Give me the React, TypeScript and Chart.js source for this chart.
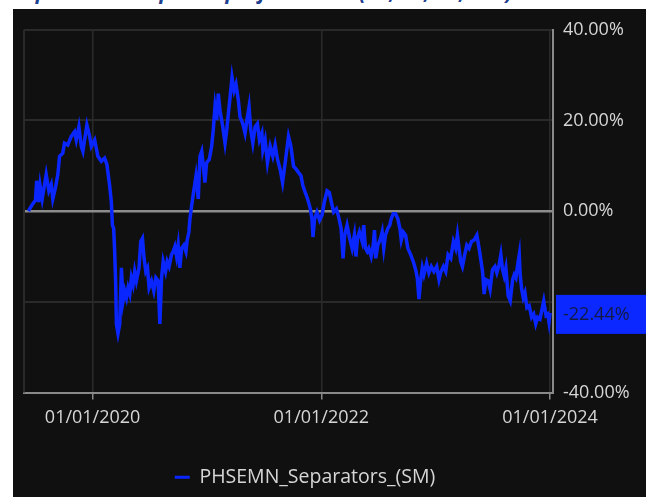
import React, { useEffect, useRef } from "react";
import { Chart, registerables } from "chart.js";

Chart.register(...registerables);

const SERIES_NAME = "PHSEMN_Separators_(SM)";
const TITLE_TEXT = "Separators vs. peers: performance (1Y, 3Y, 5Y, 10Y)";

// x positions as decimal years
const dateYears: number[] = [
  2019.439, 2019.447, 2019.476, 2019.5, 2019.511, 2019.529, 2019.541, 2019.559, 2019.594, 2019.617,
  2019.638, 2019.652, 2019.675, 2019.696, 2019.711, 2019.739, 2019.754, 2019.783, 2019.813, 2019.842,
  2019.857, 2019.88, 2019.901, 2019.915, 2019.93, 2019.95, 2019.974, 2019.989, 2020.018, 2020.046,
  2020.076, 2020.105, 2020.125, 2020.149, 2020.164, 2020.173, 2020.184, 2020.193, 2020.202, 2020.208,
  2020.222, 2020.237, 2020.252, 2020.266, 2020.281, 2020.296, 2020.31, 2020.325, 2020.339, 2020.354,
  2020.368, 2020.383, 2020.406, 2020.421, 2020.436, 2020.45, 2020.465, 2020.48, 2020.494, 2020.515,
  2020.535, 2020.553, 2020.573, 2020.588, 2020.603, 2020.617, 2020.638, 2020.652, 2020.669, 2020.69,
  2020.704, 2020.719, 2020.734, 2020.748, 2020.763, 2020.778, 2020.798, 2020.816, 2020.827, 2020.842,
  2020.851, 2020.866, 2020.886, 2020.904, 2020.924, 2020.939, 2020.954, 2020.968, 2020.982, 2020.997,
  2021.02, 2021.041, 2021.055, 2021.07, 2021.085, 2021.099, 2021.114, 2021.138, 2021.158, 2021.173,
  2021.187, 2021.202, 2021.219, 2021.237, 2021.254, 2021.275, 2021.289, 2021.313, 2021.333, 2021.354,
  2021.368, 2021.383, 2021.401, 2021.421, 2021.441, 2021.459, 2021.48, 2021.489, 2021.509, 2021.529,
  2021.553, 2021.576, 2021.596, 2021.617, 2021.64, 2021.661, 2021.684, 2021.713, 2021.734, 2021.757,
  2021.781, 2021.801, 2021.822, 2021.839, 2021.86, 2021.88, 2021.904, 2021.918, 2021.927, 2021.941,
  2021.962, 2021.985, 2022.006, 2022.026, 2022.05, 2022.07, 2022.088, 2022.108, 2022.132, 2022.152,
  2022.173, 2022.19, 2022.204, 2022.225, 2022.248, 2022.269, 2022.289, 2022.303, 2022.316, 2022.333,
  2022.357, 2022.371, 2022.386, 2022.401, 2022.415, 2022.436, 2022.454, 2022.465, 2022.476, 2022.494,
  2022.518, 2022.532, 2022.546, 2022.561, 2022.582, 2022.599, 2022.611, 2022.629, 2022.649, 2022.669,
  2022.687, 2022.699, 2022.717, 2022.737, 2022.757, 2022.781, 2022.804, 2022.825, 2022.839, 2022.854,
  2022.868, 2022.883, 2022.897, 2022.921, 2022.941, 2022.962, 2022.985, 2023.009, 2023.029, 2023.044,
  2023.068, 2023.088, 2023.108, 2023.132, 2023.155, 2023.175, 2023.19, 2023.204, 2023.219, 2023.234,
  2023.254, 2023.272, 2023.292, 2023.313, 2023.336, 2023.36, 2023.38, 2023.395, 2023.41, 2023.424,
  2023.439, 2023.459, 2023.476, 2023.497, 2023.518, 2023.535, 2023.555, 2023.57, 2023.585, 2023.599,
  2023.614, 2023.634, 2023.652, 2023.673, 2023.687, 2023.702, 2023.717, 2023.731, 2023.739, 2023.752,
  2023.766, 2023.781, 2023.798, 2023.818, 2023.839, 2023.857, 2023.875, 2023.892, 2023.912, 2023.927,
  2023.945, 2023.965, 2023.98, 2023.991, 2024.0,
];

// cumulative performance, %
const values: number[] = [
  0.0, 0.4, 1.6, 2.4, 6.7, 2.0, 5.6, 2.7, 8.1, 4.5,
  5.9, 2.7, 5.2, 8.1, 12.1, 12.8, 15.0, 14.6, 16.5, 17.5,
  15.7, 18.6, 14.3, 13.2, 15.7, 19.0, 16.5, 14.3, 15.7, 12.1,
  11.0, 11.7, 10.3, 5.6, 2.0, -3.1, -3.8, -8.9, -16.2, -24.9,
  -27.0, -24.9, -12.5, -19.8, -17.6, -19.1, -16.9, -18.3, -14.7, -16.2,
  -13.3, -15.4, -12.5, -6.7, -6.0, -10.4, -13.3, -12.5, -16.9, -15.4,
  -17.6, -14.7, -15.4, -24.9, -14.7, -11.1, -13.3, -11.1, -12.2, -9.6,
  -8.9, -7.8, -10.0, -7.5, -12.5, -8.2, -7.5, -8.9, -6.4, -4.6,
  -1.7, 1.2, 4.8, 7.8, 2.7, 12.1, 13.2, 9.9, 6.3, 10.7,
  11.4, 14.3, 17.9, 23.0, 20.1, 25.9, 22.2, 18.6, 15.0, 17.9,
  21.5, 25.1, 29.5, 26.6, 28.0, 24.4, 20.8, 19.3, 17.2, 20.8,
  23.0, 17.9, 15.0, 18.6, 19.3, 15.7, 17.2, 13.5, 15.7, 10.7,
  14.3, 12.1, 14.6, 11.4, 9.2, 6.3, 10.7, 16.5, 14.3, 9.9,
  9.2, 8.5, 7.8, 5.6, 4.1, 2.7, 0.5, -1.7, -5.7, -1.7,
  -0.2, -2.0, -0.9, 2.0, 4.5, 4.1, 2.0, -0.2, 0.5, -1.3,
  -3.8, -10.4, -5.3, -3.1, -6.0, -8.2, -5.3, -10.0, -6.0, -4.6,
  -6.7, -3.1, -8.2, -8.9, -8.2, -10.0, -7.5, -4.2, -10.4, -7.5,
  -6.0, -4.6, -8.2, -5.3, -3.8, -3.1, -1.7, -0.6, -0.6, -1.7,
  -3.8, -6.4, -4.6, -5.3, -8.2, -9.6, -11.1, -12.9, -14.7, -19.4,
  -15.4, -12.5, -14.0, -11.5, -13.6, -12.2, -13.3, -12.2, -15.1, -13.5,
  -12.2, -13.3, -9.6, -10.4, -6.7, -8.2, -5.3, -8.2, -11.1, -12.2,
  -9.6, -7.5, -8.2, -6.7, -6.4, -5.3, -8.2, -10.7, -13.3, -18.3,
  -15.1, -15.4, -17.2, -12.9, -12.2, -13.6, -11.8, -9.6, -12.9, -14.3,
  -12.5, -18.7, -19.8, -15.1, -14.0, -14.7, -11.8, -9.6, -14.0, -17.2,
  -19.1, -18.0, -21.3, -20.9, -23.4, -22.7, -24.9, -23.4, -23.8, -22.0,
  -19.8, -23.0, -22.7, -24.5, -22.44,
];

const yTickValues = [-40, -20, 0, 20, 40];
const xTickYears = [2020, 2022, 2024];
const X_MIN = 2019.4;
const X_MAX = 2024.026;

const FONT = "'Open Sans', 'Noto Sans', sans-serif";
const LINE_COLOR = "#0a26ff";
const TEXT_COLOR = "#d6d6d6";
const GRID_COLOR = "#2a2a2a";
const AXIS_COLOR = "#8a8a8a";

const lastValuePlugin = {
  id: "lastValueBox",
  afterLayout(chart: any) {
    // legend in the reference sits a little left of the canvas centre
    if (chart.legend) {
      chart.legend.left -= 30;
      chart.legend.right -= 30;
    }
  },
  beforeDatasetsDraw(chart: any) {
    const { ctx, chartArea } = chart;
    ctx.save();
    ctx.strokeStyle = GRID_COLOR;
    ctx.lineWidth = 2;
    ctx.beginPath();
    ctx.moveTo(chartArea.left, chartArea.top);
    ctx.lineTo(chartArea.left, chartArea.bottom);
    ctx.stroke();
    ctx.restore();
  },
  afterDraw(chart: any) {
    const { ctx, chartArea } = chart;
    const v = values[values.length - 1];
    const py = chart.scales.y.getPixelForValue(v);
    const left = chartArea.right + 3;
    ctx.save();
    ctx.fillStyle = "#0a28ff";
    ctx.fillRect(left, py - 18, chart.width - left, 39);
    ctx.fillStyle = "#151a40";
    ctx.font = `18px ${FONT}`;
    ctx.textBaseline = "middle";
    ctx.textAlign = "left";
    ctx.fillText(v.toFixed(2) + "%", left + 7, py + 2);
    ctx.restore();
  },
};

export default function App() {
  const canvasRef = useRef<HTMLCanvasElement | null>(null);

  useEffect(() => {
    if (!canvasRef.current) return;
    const chart = new Chart(canvasRef.current, {
      type: "line",
      data: {
        datasets: [
          {
            label: SERIES_NAME,
            data: dateYears.map((x, i) => ({ x, y: values[i] })),
            borderColor: LINE_COLOR,
            backgroundColor: LINE_COLOR,
            borderWidth: 3.5,
            pointRadius: 0,
            tension: 0,
            fill: false,
          },
        ],
      },
      options: {
        animation: false,
        responsive: false,
        maintainAspectRatio: false,
        layout: { padding: { left: 11, top: 15, right: 0, bottom: 0 } },
        plugins: {
          legend: {
            display: true,
            position: "bottom",
            labels: {
              color: TEXT_COLOR,
              font: { family: FONT, size: 19.5 },
              boxWidth: 15,
              boxHeight: 3,
              padding: 10,
              generateLabels: (chart: any) =>
                Chart.defaults.plugins.legend.labels
                  .generateLabels(chart)
                  .map((l: any) => ({ ...l, lineWidth: 0, strokeStyle: "transparent" })),
            },
          },
          tooltip: { enabled: false },
          title: { display: false },
        },
        scales: {
          x: {
            type: "linear",
            min: X_MIN,
            max: X_MAX,
            afterBuildTicks: (scale: any) => {
              scale.ticks = xTickYears.map((v) => ({ value: v }));
            },
            afterFit: (scale: any) => {
              scale.height = 65;
            },
            ticks: {
              color: TEXT_COLOR,
              font: { family: FONT, size: 18 },
              maxRotation: 0,
              autoSkip: false,
              padding: 8,
              callback: (v: any) => "01/01/" + v,
            },
            grid: {
              color: GRID_COLOR,
              lineWidth: 1.5,
              drawTicks: true,
              tickLength: 7,
              tickColor: AXIS_COLOR,
              tickWidth: 1.5,
            },
            border: { color: AXIS_COLOR, width: 2 },
          },
          y: {
            position: "right",
            min: -40,
            max: 40,
            afterBuildTicks: (scale: any) => {
              scale.ticks = yTickValues.map((v) => ({ value: v }));
            },
            afterFit: (scale: any) => {
              scale.width = 93;
            },
            ticks: {
              color: (c: any) => (c.tick && c.tick.value === -20 ? "rgba(0,0,0,0)" : TEXT_COLOR),
              font: { family: FONT, size: 18 },
              padding: 10,
              callback: (v: any) => Number(v).toFixed(2) + "%",
            },
            grid: {
              color: (c: any) => (c.tick && c.tick.value === 0 ? "#8c8c8c" : GRID_COLOR),
              lineWidth: (c: any) => (c.tick && c.tick.value === 0 ? 2.5 : 2),
              drawTicks: false,
            },
            border: { color: AXIS_COLOR, width: 2 },
          },
        },
      },
      plugins: [lastValuePlugin],
    });
    return () => chart.destroy();
  }, []);

  return (
    <div
      style={{
        position: "absolute",
        left: 0,
        top: 0,
        width: 646,
        height: 497,
        background: "#ffffff",
        overflow: "hidden",
      }}
    >
      <div
        style={{
          position: "absolute",
          left: 13,
          top: -21,
          whiteSpace: "nowrap",
          fontFamily: FONT,
          fontStyle: "italic",
          fontWeight: 700,
          fontSize: 21,
          color: "#1f3f8f",
          lineHeight: "24px",
        }}
      >
        {TITLE_TEXT}
      </div>
      <div
        style={{
          position: "absolute",
          left: 13,
          top: 9,
          width: 633,
          height: 488,
          background: "#101010",
        }}
      >
        <canvas ref={canvasRef} width={633} height={488} style={{ display: "block" }} />
      </div>
    </div>
  );
}
